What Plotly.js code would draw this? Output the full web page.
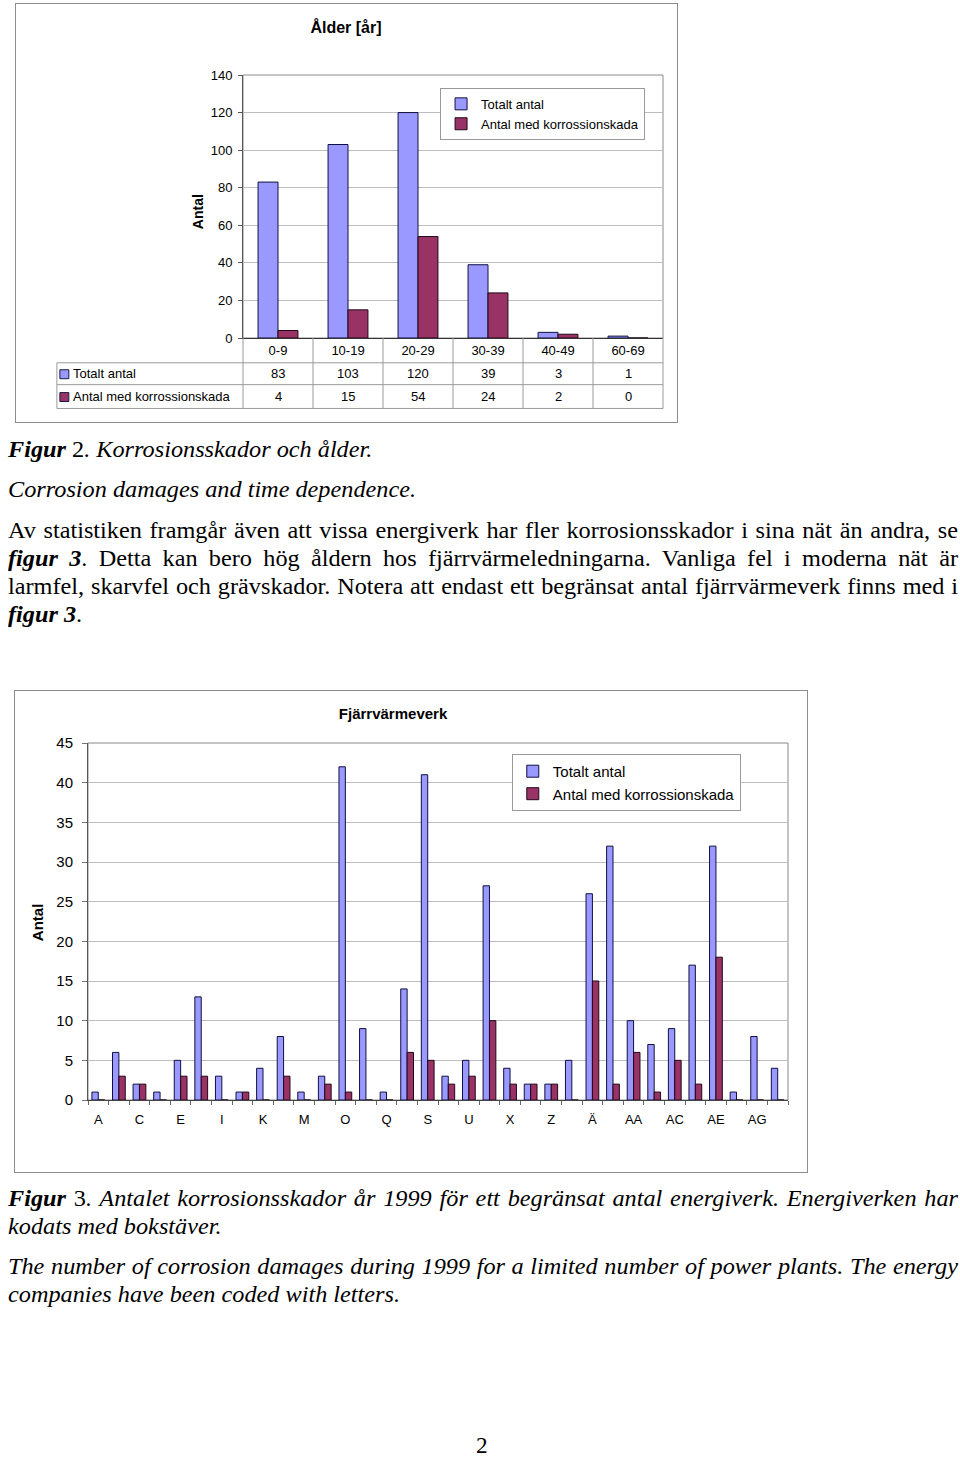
<!DOCTYPE html>
<html>
<head>
<meta charset="utf-8">
<script src="https://cdn.plot.ly/plotly-3.0.1.min.js"></script>
<style>
  html, body { margin:0; padding:0; background:#fff; }
  body { width:960px; height:1460px; position:relative; overflow:hidden; }
  .box { position:absolute; border:1px solid #8c8c8c; box-sizing:border-box; background:#fff; }
  .ln { position:absolute; left:8px; height:28px; line-height:28px; font-family:"Liberation Serif","Times New Roman",serif;
        font-size:24px; color:#000; white-space:nowrap; transform-origin:0 50%; }
  .j { text-align:justify; text-align-last:justify; }
  .bi { font-weight:bold; font-style:italic; }
  .it { font-style:italic; }
</style>
</head>
<body>
<div id="chart1" class="box" style="left:15px; top:3px; width:663px; height:420px;"></div>
<div id="chart2" class="box" style="left:14px; top:690px; width:794px; height:483px;"></div>

<div class="ln" style="top:435px"><span class="bi">Figur</span> 2<span class="it">. Korrosionsskador och ålder.</span></div>
<div class="ln it" style="top:475px"><span id="refspan">Corrosion damages and time dependence.</span></div>
<div class="ln j" data-w="950" style="top:516px">Av statistiken framgår även att vissa energiverk har fler korrosionsskador i sina nät än andra, se</div>
<div class="ln j" data-w="950" style="top:544px"><span class="bi">figur 3</span>. Detta kan bero hög åldern hos fjärrvärmeledningarna. Vanliga fel i moderna nät är</div>
<div class="ln j" data-w="950" style="top:572px">larmfel, skarvfel och grävskador. Notera att endast ett begränsat antal fjärrvärmeverk finns med i</div>
<div class="ln" style="top:600px"><span class="bi">figur 3</span>.</div>

<div class="ln j" data-w="950" style="top:1184px"><span class="bi">Figur</span> 3<span class="it">. Antalet korrosionsskador år 1999 för ett begränsat antal energiverk. Energiverken har</span></div>
<div class="ln it" style="top:1212px">kodats med bokstäver.</div>
<div class="ln it j" data-w="950" style="top:1252px">The number of corrosion damages during 1999 for a limited number of power plants. The energy</div>
<div class="ln it" style="top:1280px">companies have been coded with letters.</div>
<div class="ln" style="top:1432px; left:476px; font-size:23px;">2</div>

<script>
// ---------------- DATA ----------------
const ageCats    = ['0-9', '10-19', '20-29', '30-39', '40-49', '60-69'];
const ageTotal   = [83, 103, 120, 39, 3, 1];
const ageDamaged = [4, 15, 54, 24, 2, 0];

const plants       = ['A','B','C','D','E','G','I','J','K','L','M','N','O','P','Q','R','S','T','U','V','X','Y','Z','Å','Ä','Ö','AA','AB','AC','AD','AE','AF','AG','AH'];
const plantTotal   = [1, 6, 2, 1, 5, 13, 3, 1, 4, 8, 1, 3, 42, 9, 1, 14, 41, 3, 5, 27, 4, 2, 2, 5, 26, 32, 10, 7, 9, 17, 32, 1, 8, 4];
const plantDamaged = [0, 3, 2, 0, 3, 3, 0, 1, 0, 3, 0, 2, 1, 0, 0, 6, 5, 2, 3, 10, 2, 2, 2, 0, 15, 2, 6, 1, 5, 2, 18, 0, 0, 0];

const seriesNames = ['Totalt antal', 'Antal med korrossionskada'];
const blue = '#9999FF', red = '#993366';
const font = 'Liberation Sans, Arial, sans-serif';

// ---------------- text fit ----------------
(function(){
  const refW = 408;
  const nat = document.getElementById('refspan').getBoundingClientRect().width;
  const s = refW / nat;
  document.querySelectorAll('.ln').forEach(el => {
    el.style.transform = 'scaleX(' + s + ')';
    if (el.dataset.w) el.style.width = (parseFloat(el.dataset.w) / s) + 'px';
  });
})();

// ---------------- CHART 1 ----------------
(function(){
  const W = 663, H = 420;
  const mL = 227, mR = 14, mT = 71, mB = 84;
  const pw = W - mL - mR, ph = H - mT - mB;
  const px = X => (X - 242) / pw;      // page x -> paper x
  const py = Y => (337 - Y) / ph;      // page y -> paper y
  const grey = '#9a9a9a';
  const shapes = [];
  const ann = [];
  [362, 384, 408].forEach(Y => shapes.push({type:'line', xref:'paper', yref:'paper', x0:px(55), x1:1, y0:py(Y), y1:py(Y), line:{color:grey, width:1}}));
  shapes.push({type:'line', xref:'paper', yref:'paper', x0:px(55), x1:px(55), y0:py(362), y1:py(408), line:{color:grey, width:1}});
  shapes.push({type:'line', xref:'paper', yref:'paper', x0:0, x1:0, y0:0, y1:py(408), line:{color:grey, width:1}});
  shapes.push({type:'line', xref:'paper', yref:'paper', x0:1, x1:1, y0:0, y1:py(408), line:{color:grey, width:1}});
  for (let i = 0; i < ageCats.length - 1; i++) {
    shapes.push({type:'line', xref:'x', yref:'paper', x0:i + 0.5, x1:i + 0.5, y0:0, y1:py(408), line:{color:grey, width:1}});
  }
  const rowY = [373, 396];
  const rowCol = [blue, red];
  for (let r = 0; r < 2; r++) {
    shapes.push({type:'rect', xref:'paper', yref:'paper', x0:px(58), x1:px(67), y0:py(rowY[r] + 5), y1:py(rowY[r] - 4),
                 fillcolor:rowCol[r], line:{color:'#1a1a40', width:1}});
    ann.push({xref:'paper', yref:'paper', x:px(69), y:py(rowY[r]), xanchor:'left', yanchor:'middle', showarrow:false,
              text:seriesNames[r], font:{family:font, size:13, color:'#000'}});
  }
  const rows = [ageTotal, ageDamaged];
  for (let r = 0; r < 2; r++) {
    rows[r].forEach((v, i) => ann.push({xref:'x', yref:'paper', x:ageCats[i], y:py(rowY[r]), xanchor:'center', yanchor:'middle',
      showarrow:false, text:String(v), font:{family:font, size:13, color:'#000'}}));
  }
  ann.push({xref:'paper', yref:'paper', x:px(197), y:py(210), textangle:-90, showarrow:false, xanchor:'center', yanchor:'middle',
            text:'<b>Antal</b>', font:{family:font, size:14, color:'#000'}});
  shapes.push({type:'rect', xref:'paper', yref:'paper', x0:0, x1:1, y0:0, y1:1, line:{color:'#8a8a8a', width:1}, layer:'below'});

  const traces = [
    {type:'bar', name:seriesNames[0], x:ageCats, y:ageTotal, marker:{color:blue, line:{color:'#101040', width:1}}},
    {type:'bar', name:seriesNames[1], x:ageCats, y:ageDamaged, marker:{color:red, line:{color:'#200818', width:1}}}
  ];
  const layout = {
    width:W - 2, height:H - 2,
    margin:{l:mL, r:mR, t:mT, b:mB, pad:0},
    paper_bgcolor:'#fff', plot_bgcolor:'#fff',
    font:{family:font, size:13, color:'#000'},
    title:{text:'<b>Ålder [år]</b>', font:{family:font, size:16, color:'#000'}, x:(346 - 15)/663, xref:'container', xanchor:'center',
           y:1 - 24/420, yref:'container', yanchor:'middle'},
    barmode:'group', bargap:0.43, bargroupgap:0,
    xaxis:{type:'category', showgrid:false, ticks:'', showline:true, linecolor:'#333', linewidth:1, tickangle:0,
           tickfont:{family:font, size:13, color:'#000'}, ticklabelstandoff:0, fixedrange:true},
    yaxis:{range:[0, 140], dtick:20, showgrid:true, gridcolor:'#bdbdbd', gridwidth:1, zeroline:false,
           showline:true, linecolor:'#555', ticks:'outside', ticklen:4, tickcolor:'#555',
           tickfont:{family:font, size:13, color:'#000'}, ticklabelstandoff:3, fixedrange:true},
    legend:{x:px(440), y:py(85), xanchor:'left', yanchor:'top', bgcolor:'#fff', bordercolor:'#9a9a9a', borderwidth:1,
            font:{family:font, size:13, color:'#000'}, itemwidth:30, tracegroupgap:0},
    shapes:shapes, annotations:ann, showlegend:true
  };
  Plotly.newPlot('chart1', traces, layout, {displayModeBar:false, staticPlot:true});
})();

// ---------------- CHART 2 ----------------
(function(){
  const W = 794, H = 483;
  const mL = 73, mR = 19, mT = 52, mB = 72;
  const pw = W - mL - mR, ph = H - mT - mB;
  const px = X => (X - 88) / pw;
  const py = Y => (1100 - Y) / ph;
  const traces = [
    {type:'bar', name:seriesNames[0], x:plants, y:plantTotal, marker:{color:blue, line:{color:'#101040', width:1}}},
    {type:'bar', name:seriesNames[1], x:plants, y:plantDamaged, marker:{color:red, line:{color:'#200818', width:1}}}
  ];
  const tickText = plants.map((p, i) => i % 2 === 0 ? p : '');
  const layout = {
    width:W - 2, height:H - 2,
    margin:{l:mL, r:mR, t:mT, b:mB, pad:0},
    paper_bgcolor:'#fff', plot_bgcolor:'#fff',
    font:{family:font, size:14, color:'#000'},
    title:{text:'<b>Fjärrvärmeverk</b>', font:{family:font, size:15, color:'#000'}, x:(393 - 14)/794, xref:'container', xanchor:'center',
           y:1 - 23/483, yref:'container', yanchor:'middle'},
    barmode:'group', bargap:0.38, bargroupgap:0,
    xaxis:{type:'category', tickmode:'array', tickvals:plants, ticktext:tickText, tickson:'boundaries', tickangle:0,
           ticks:'outside', ticklen:4, tickcolor:'#666', showgrid:false, showline:true, linecolor:'#444', linewidth:1,
           tickfont:{family:font, size:13, color:'#000'}, ticklabelstandoff:7, fixedrange:true},
    yaxis:{range:[0, 45], dtick:5, showgrid:true, gridcolor:'#bdbdbd', gridwidth:1, zeroline:false,
           showline:true, linecolor:'#555', ticks:'outside', ticklen:5, tickcolor:'#777',
           tickfont:{family:font, size:15, color:'#000'}, ticklabelstandoff:6, fixedrange:true},
    legend:{x:px(513), y:py(752), xanchor:'left', yanchor:'top', bgcolor:'#fff', bordercolor:'#9a9a9a', borderwidth:1,
            font:{family:font, size:15, color:'#000'}, itemwidth:30, tracegroupgap:0},
    shapes:[{type:'rect', xref:'paper', yref:'paper', x0:0, x1:1, y0:0, y1:1, line:{color:'#8a8a8a', width:1}, layer:'below'}],
    annotations:[{xref:'paper', yref:'paper', x:px(38), y:py(921), textangle:-90, showarrow:false, xanchor:'center', yanchor:'middle',
                  text:'<b>Antal</b>', font:{family:font, size:15, color:'#000'}}],
    showlegend:true
  };
  Plotly.newPlot('chart2', traces, layout, {displayModeBar:false, staticPlot:true});
})();
</script>
</body>
</html>
